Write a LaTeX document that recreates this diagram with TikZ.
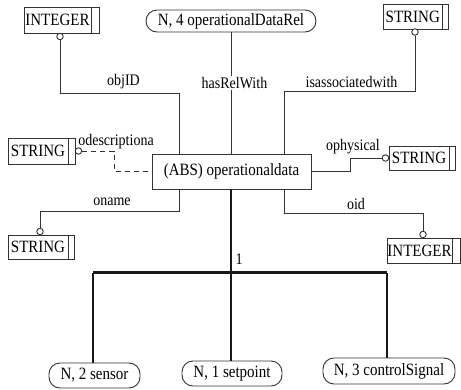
\documentclass[tikz,border=0pt]{standalone}
\usepackage{fontspec}
\usepackage{graphicx}
\setmainfont{Liberation Serif}
% slightly tall lettering
\newcommand\tx[1]{\scalebox{1}[1.15]{#1}}
\begin{document}
\begin{tikzpicture}[x=1pt,y=-1pt,
  line/.style={draw=black!80, line width=0.9pt},
  bus/.style={draw=black!90, line width=2.1pt},
  ent/.style={draw=black!80, line width=0.9pt, rectangle, inner sep=0pt,
    font=\fontsize{15}{17}\selectfont},
  rel/.style={draw=black!80, line width=0.9pt, rectangle, rounded corners=11pt,
    inner sep=0pt, font=\fontsize{15}{17}\selectfont},
  attr/.style={draw=black!80, line width=0.9pt, rectangle, inner sep=0pt,
    font=\fontsize{15}{17}\selectfont,
    path picture={\draw[black!80, line width=0.9pt]
      ([xshift=-#1]path picture bounding box.north east) --
      ([xshift=-#1]path picture bounding box.south east);}},
  attr/.default=7pt,
  knob/.style={circle, draw=black!80, fill=white, line width=0.9pt,
    inner sep=0pt, minimum size=6.5pt},
  lbl/.style={inner sep=1pt, font=\fontsize{14}{16}\selectfont}
]
\useasboundingbox (0,0) rectangle (461,389);

% central entity and the relationship above it
\node[ent, minimum width=159pt, minimum height=35pt] (od) at (231.5,171.5) {\tx{(ABS) operationaldata}};
\node[rel, minimum width=170pt, minimum height=22pt] (r4) at (231,21) {\tx{N, 4 operationalDataRel}};

% attribute types
\node[attr=8pt, minimum width=75pt, minimum height=26pt] (i1) at (61.5,20) {\tx{INTEGER}\hspace*{8pt}};
\node[attr=5.5pt, minimum width=65pt, minimum height=25pt] (s1) at (415.5,16.5) {\tx{STRING}\hspace*{5.5pt}};
\node[attr=7pt, minimum width=67pt, minimum height=26pt] (s2) at (41.5,151) {\tx{STRING}\hspace*{7pt}};
\node[attr=6pt, minimum width=66pt, minimum height=24pt] (s3) at (41,247) {\tx{STRING}\hspace*{6pt}};
\node[attr=6pt, minimum width=66pt, minimum height=24pt] (s4) at (422,158) {\tx{STRING}\hspace*{6pt}};
\node[attr=8pt, minimum width=73pt, minimum height=25pt] (i2) at (423.5,250.5) {\tx{INTEGER}\hspace*{8pt}};

% optionality circles
\node[knob] (c1) at (60,36.5) {};
\node[knob] (c2) at (415,32) {};
\node[knob] (c3) at (78.5,151) {};
\node[knob] (c4) at (40,231.5) {};
\node[knob] (c5) at (385.5,158) {};
\node[knob] (c6) at (423,234.5) {};

% attribute connectors
\draw[line] (c1.south) |- (179,93) -- (179,154);
\draw[line] (c2.south) |- (284,91) -- (284,154);
\draw[line, dashed, dash pattern=on 5pt off 4pt] (c3.east) -| (114,171.5) -- (od.west);
\draw[line] (179,189) |- (40,211) -- (c4.north);
\draw[line] (od.east) -| (350,158) -- (c5.west);
\draw[line] (284,189) |- (423,213) -- (c6.north);
\draw[line] (r4.south) -- (231,154);

% attribute labels
\node[lbl] (lobj) at (123.5,82) {\tx{objID}};
\node[lbl, fill=white] (lhas) at (234.5,83) {\tx{hasRelWith}};
\node[lbl] (lass) at (351.5,82) {\tx{isassociatedwith}};
\node[lbl] (ldesc) at (116,142) {\tx{odescriptiona}};
\node[lbl] (lname) at (112,202) {\tx{oname}};
\node[lbl] (lphys) at (353,147) {\tx{ophysical}};
\node[lbl] (loid) at (356,204) {\tx{oid}};

% relationships below, joined by a common bus
\node[rel, minimum width=91pt, minimum height=25pt] (n2) at (94.5,375.5) {\tx{N, 2 sensor}};
\node[rel, minimum width=100pt, minimum height=25pt] (n1) at (232,373.5) {\tx{N, 1 setpoint}};
\node[rel, minimum width=132pt, minimum height=26pt] (n3) at (389,371) {\tx{N, 3 controlSignal}};

\coordinate (bl) at (93,272.5);
\coordinate (bm) at (231,272.5);
\coordinate (br) at (387,272.5);
\draw[bus] (231,189) -- (bm);
\draw[bus] (bl) -- (br);
\draw[bus] (bl) -- (bl |- n2.north);
\draw[bus] (bm) -- (bm |- n1.north);
\draw[bus] (br) -- (br |- n3.north);
\node[lbl] (lone) at (239,259) {\tx{1}};
\end{tikzpicture}
\end{document}
